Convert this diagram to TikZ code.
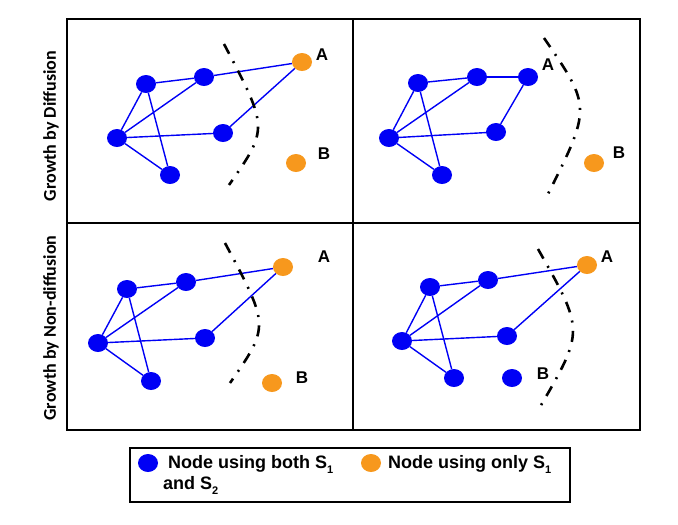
\documentclass[tikz,border=0pt]{standalone}
\usepackage{fontspec}
\setmainfont{Liberation Sans}
\newfontfamily\sidefont{Carlito}
\usetikzlibrary{shapes.geometric}
\definecolor{nodeblue}{RGB}{0,0,245}
\definecolor{nodeorange}{RGB}{247,152,29}
\newcommand{\subidx}[1]{\raisebox{-0.55ex}{\fontsize{11}{11}\selectfont #1}}
\begin{document}
\begin{tikzpicture}[x=1pt,y=-1pt,
 bnode/.style={ellipse,fill=nodeblue,minimum width=20pt,minimum height=18pt,inner sep=0pt},
 onode/.style={ellipse,fill=nodeorange,minimum width=20pt,minimum height=18pt,inner sep=0pt},
 link/.style={nodeblue,line width=1.4pt},
 border/.style={black,line width=1.5pt},
 split/.style={black,line width=2.6pt,dash pattern=on 11pt off 8.5pt on 2pt off 8.5pt},
 lab/.style={font=\bfseries\fontsize{17}{20}\selectfont,inner sep=0pt},
 keytext/.style={font=\bfseries\fontsize{18}{21}\selectfont,inner sep=0pt,anchor=base west},
 side/.style={font=\sidefont\bfseries\fontsize{18}{21}\selectfont,rotate=90}]
 \useasboundingbox(0,0) rectangle (678,525);
 \draw[border](67,19) rectangle (640,430);
 \draw[border](353,19)--(353,430);
 \draw[border](67,223)--(640,223);
 \node[side] (diff) at (51,126) {Growth by Diffusion};
 \node[side] (nondiff) at (51,328) {Growth by Non-diffusion};

 \node[bnode] (tl1) at (146,84) {};
 \node[bnode] (tl2) at (204,77) {};
 \node[bnode] (tl3) at (117,138) {};
 \node[bnode] (tl4) at (223,133) {};
 \node[bnode] (tl5) at (170,175) {};
 \node[onode] (tlA) at (302,62) {};
 \node[onode] (tlB) at (296,163) {};
 \node[lab] (tlAl) at (322,55) {A};
 \node[lab] (tlBl) at (324,154) {B};
 \draw[link](tl1)--(tl2);
 \draw[link](tl1)--(tl3);
 \draw[link](tl1)--(tl5);
 \draw[link](tl3)--(tl2);
 \draw[link](tl3)--(tl4);
 \draw[link](tl3)--(tl5);
 \draw[link](tl2)--(tlA);
 \draw[link](tl4)--(tlA);
 \draw[split](224,44) .. controls (268.5,128.5) .. (229,185);

 \node[bnode] (tr1) at (418,83) {};
 \node[bnode] (tr2) at (477,77) {};
 \node[bnode] (tr3) at (389,138) {};
 \node[bnode] (tr4) at (496,132) {};
 \node[bnode] (tr5) at (442,175) {};
 \node[bnode] (tr6) at (528,77) {};
 \node[onode] (trB) at (594,163) {};
 \node[lab] (trAl) at (548,65) {A};
 \node[lab] (trBl) at (619,153) {B};
 \draw[link](tr1)--(tr2);
 \draw[link](tr1)--(tr3);
 \draw[link](tr1)--(tr5);
 \draw[link](tr3)--(tr2);
 \draw[link](tr3)--(tr4);
 \draw[link](tr3)--(tr5);
 \draw[link](tr2)--(tr6);
 \draw[link](tr4)--(tr6);
 \draw[split](544,38) .. controls (591.7,107.3) .. (546,198);

 \node[bnode] (bl1) at (127,289) {};
 \node[bnode] (bl2) at (186,282) {};
 \node[bnode] (bl3) at (98,343) {};
 \node[bnode] (bl4) at (205,338) {};
 \node[bnode] (bl5) at (151,381) {};
 \node[onode] (blA) at (283,267) {};
 \node[onode] (blB) at (272,383) {};
 \node[lab] (blAl) at (324,257) {A};
 \node[lab] (blBl) at (302,378) {B};
 \draw[link](bl1)--(bl2);
 \draw[link](bl1)--(bl3);
 \draw[link](bl1)--(bl5);
 \draw[link](bl3)--(bl2);
 \draw[link](bl3)--(bl4);
 \draw[link](bl3)--(bl5);
 \draw[link](bl2)--(blA);
 \draw[link](bl4)--(blA);
 \draw[split](225,243) .. controls (269.5,326.3) .. (230,383);

 \node[bnode] (br1) at (430,287) {};
 \node[bnode] (br2) at (488,280) {};
 \node[bnode] (br3) at (402,341) {};
 \node[bnode] (br4) at (507,336) {};
 \node[bnode] (br5) at (454,378) {};
 \node[bnode] (br7) at (512,378) {};
 \node[onode] (brA) at (587,265) {};
 \node[lab] (brAl) at (607,257) {A};
 \node[lab] (brBl) at (543,374) {B};
 \draw[link](br1)--(br2);
 \draw[link](br1)--(br3);
 \draw[link](br1)--(br5);
 \draw[link](br3)--(br2);
 \draw[link](br3)--(br4);
 \draw[link](br3)--(br5);
 \draw[link](br2)--(brA);
 \draw[link](br4)--(brA);
 \draw[split](538,249) .. controls (584.3,330.7) .. (540,407);

 \draw[border](130,448) rectangle (570,502);
 \node[bnode] (keyb) at (148,463) {};
 \node[keytext] (keybt) at (168,468) {Node using both S\subidx{1}};
 \node[keytext] (keybt2) at (163,489) {and S\subidx{2}};
 \node[onode] (keyo) at (371,463) {};
 \node[keytext] (keyot) at (388,468) {Node using only S\subidx{1}};
\end{tikzpicture}
\end{document}
